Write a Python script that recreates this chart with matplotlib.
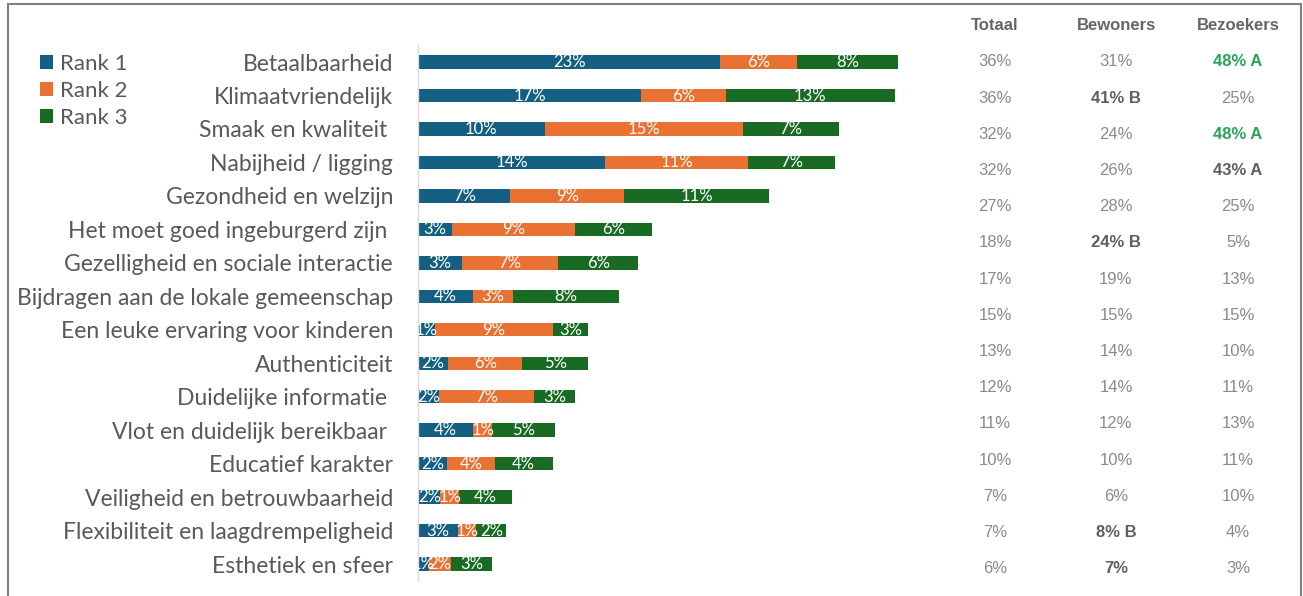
import matplotlib
matplotlib.use("Agg")
import matplotlib.pyplot as plt
from matplotlib.patches import Rectangle, Patch
import numpy as np

categories = ["Betaalbaarheid", "Klimaatvriendelijk", "Smaak en kwaliteit ",
              "Nabijheid / ligging", "Gezondheid en welzijn",
              "Het moet goed ingeburgerd zijn ", "Gezelligheid en sociale interactie",
              "Bijdragen aan de lokale gemeenschap", "Een leuke ervaring voor kinderen",
              "Authenticiteit", "Duidelijke informatie ", "Vlot en duidelijk bereikbaar ",
              "Educatief karakter", "Veiligheid en betrouwbaarheid",
              "Flexibiliteit en laagdrempeligheid", "Esthetiek en sfeer"]
rank1 = [22.9, 16.9, 9.6, 14.2, 7.0, 2.6, 3.3, 4.2, 1.3, 2.3, 1.6, 4.2, 2.2, 1.7, 3.0, 0.8]
rank2 = [5.8, 6.4, 15.0, 10.8, 8.6, 9.3, 7.3, 3.0, 8.9, 5.6, 7.2, 1.4, 3.6, 1.4, 1.4, 1.7]
rank3 = [7.7, 12.8, 7.3, 6.6, 11.0, 5.8, 6.1, 8.0, 2.7, 5.0, 3.1, 4.8, 4.4, 4.0, 2.3, 3.1]
series_names = ["Rank 1", "Rank 2", "Rank 3"]

table_headers = ["Totaal", "Bewoners", "Bezoekers"]
totaal = ["36%", "36%", "32%", "32%", "27%", "18%", "17%", "15%", "13%", "12%", "11%", "10%", "7%", "7%", "6%"]
bewoners = ["31%", "41% B", "24%", "26%", "28%", "24% B", "19%", "15%", "14%", "14%", "12%", "10%", "6%", "8% B", "7%"]
bezoekers = ["48% A", "25%", "48% A", "43% A", "25%", "5%", "13%", "15%", "10%", "11%", "13%", "11%", "10%", "4%", "3%"]
# emphasis per cell: 0 normal, 1 bold, 2 bold green
totaal_style = [0] * 15
bewoners_style = [0, 1, 0, 0, 0, 1, 0, 0, 0, 0, 0, 0, 0, 1, 1]
bezoekers_style = [2, 0, 2, 1, 0, 0, 0, 0, 0, 0, 0, 0, 0, 0, 0]

colors = ["#156082", "#E97132", "#196B24"]
label_font = "Lato"
table_font = "Liberation Sans"

W, H = 1303, 596
fig = plt.figure(figsize=(W / 100, H / 100), dpi=100)
fig.patch.set_facecolor("white")

def fx(px):
    return px / W

def fy(py):
    return 1 - py / H

# bar axes
x0, x1 = 418, 418 + 13.2 * 40
ytop, ybot = 45.3, 580.8
ax = fig.add_axes([fx(x0), fy(ybot), fx(x1) - fx(x0), fy(ytop) - fy(ybot)])
n = len(categories)
y = np.arange(n)
left = np.zeros(n)
for vals, col, name in zip([rank1, rank2, rank3], colors, series_names):
    vals = np.array(vals)
    ax.barh(y, vals, left=left, height=0.4, color=col, label=name, zorder=2)
    left = left + vals
for vals_start, vals in [(np.zeros(n), rank1), (np.array(rank1), rank2),
                         (np.array(rank1) + np.array(rank2), rank3)]:
    for i, (s, v) in enumerate(zip(vals_start, vals)):
        ax.text(s + v / 2, i, f"{v:.0f}%", ha="center", va="center", color="white",
                fontsize=12, family=label_font, zorder=5, clip_on=False)

ax.set_xlim(0, 40)
ax.set_ylim(n - 0.5, -0.5)
ax.set_yticks(y)
ax.set_yticklabels(categories, fontsize=16.5, family=label_font, color="#595959")
ax.tick_params(axis="y", length=0, pad=18)
ax.set_xticks([])
for side in ["top", "right", "bottom"]:
    ax.spines[side].set_visible(False)
ax.spines["left"].set_color("#d9d9d9")
ax.spines["left"].set_linewidth(1.0)
ax.set_facecolor("none")

# legend
handles = [Patch(facecolor=c, edgecolor="none") for c in colors]
leg = fig.legend(handles, series_names, loc="upper left",
                 bbox_to_anchor=(fx(40), fy(54)), frameon=False,
                 prop={"family": label_font, "size": 16},
                 handlelength=0.6, handleheight=0.6, handletextpad=0.3,
                 labelspacing=0.31, borderaxespad=0, borderpad=0)
for t in leg.get_texts():
    t.set_color("#595959")

# table
col_x = [995, 1116, 1238]
for cx, h in zip(col_x, table_headers):
    fig.text(fx(cx), fy(26), h, ha="center", va="center", fontsize=12,
             fontweight="bold", family=table_font, color="#666666")
for cx, col, sty in zip(col_x, [totaal, bewoners, bezoekers],
                        [totaal_style, bewoners_style, bezoekers_style]):
    for i, (txt, s) in enumerate(zip(col, sty)):
        yy = 62 + i * 36.2
        if s == 0:
            kw = dict(color="#8a8a8a", fontweight="normal")
        elif s == 1:
            kw = dict(color="#5f5f5f", fontweight="bold")
        else:
            kw = dict(color="#2aa35a", fontweight="bold")
        fig.text(fx(cx), fy(yy), txt, ha="center", va="center", fontsize=12,
                 family=table_font, **kw)

# outer border
fig.patches.append(Rectangle((fx(8), fy(620)), fx(1301) - fx(8), fy(4) - fy(620),
                             transform=fig.transFigure, fill=False,
                             edgecolor="#808080", linewidth=1.5))

fig.savefig("out.png", dpi=100, facecolor="white")
